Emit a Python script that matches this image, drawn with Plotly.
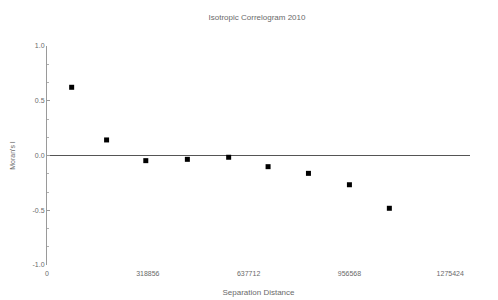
import plotly.graph_objects as go

title = "Isotropic Correlogram 2010"
x_label = "Separation Distance"
y_label = "Moran's I"

distance = [78000, 188500, 312500, 444000, 574600, 699300, 827000, 956600, 1082900]
morans_i = [0.623, 0.142, -0.047, -0.035, -0.016, -0.102, -0.163, -0.267, -0.482]

x_ticks = [0, 318856, 637712, 956568, 1275424]
y_ticks = [-1.0, -0.5, 0.0, 0.5, 1.0]

grey = "#6a6a6a"
font = dict(family="Liberation Sans, Arial, sans-serif", size=8, color=grey)

fig = go.Figure(
    go.Scatter(
        x=distance, y=morans_i, mode="markers",
        marker=dict(symbol="square", size=5, color="#000000"),
        hoverinfo="skip",
    )
)

fig.update_layout(
    width=498, height=300,
    margin=dict(l=39, r=36, t=38, b=43, autoexpand=False),
    paper_bgcolor="white", plot_bgcolor="white",
    showlegend=False,
    font=font,
    title=dict(text=title, x=0.5, xanchor="center", y=0.97, yanchor="middle",
               font=dict(size=8, color=grey)),
)

fig.update_xaxes(
    range=[0, 1338000], automargin=False,
    tickvals=x_ticks, ticktext=[str(v) for v in x_ticks],
    showgrid=False, zeroline=False, showline=False, ticks="",
    ticklabelstandoff=3,
    tickfont=dict(size=7, color=grey),
    title=dict(text=x_label, font=dict(size=8, color=grey), standoff=13),
)

fig.update_yaxes(
    range=[-1.0, 1.0], automargin=False,
    tickvals=y_ticks, ticktext=[f"{v:.1f}" for v in y_ticks],
    showgrid=False,
    zeroline=True, zerolinecolor="#555555", zerolinewidth=1,
    showline=True, linecolor="#9a9a9a", linewidth=1,
    ticks="inside", ticklen=3, tickcolor="#9a9a9a",
    minor=dict(dtick=0.5 / 3, ticks="inside", ticklen=2, tickcolor="#b0b0b0"),
    tickfont=dict(size=7, color=grey),
    title=dict(text=y_label, font=dict(size=7, color=grey), standoff=16),
)

fig.write_html("out.html")
